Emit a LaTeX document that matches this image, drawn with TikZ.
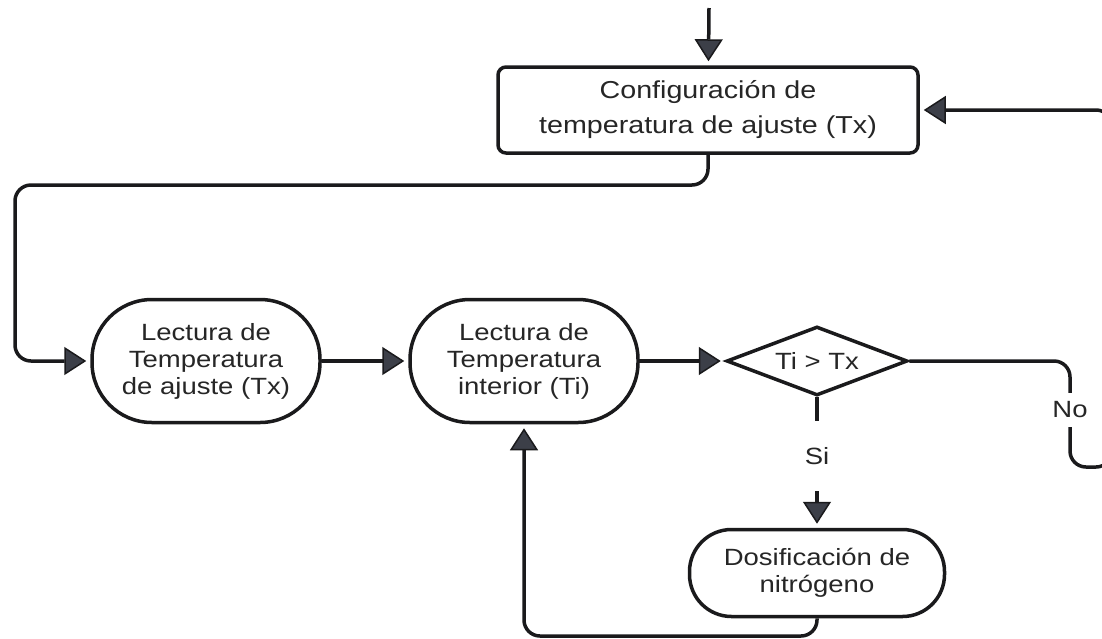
\documentclass[tikz,border=0pt]{standalone}
\usepackage{fontspec}
\setmainfont{Liberation Sans}[FakeStretch=1.17]
\usetikzlibrary{arrows.meta,shapes.geometric}
\definecolor{ink}{HTML}{1A1A1C}
\definecolor{txt}{HTML}{262626}
\definecolor{tipgray}{HTML}{3C3F48}
\tikzset{
  base/.style={draw=ink, line width=3.5pt, fill=white, text=txt, align=center,
               inner sep=0pt, font=\fontsize{23.5}{27}\selectfont},
  cfgbox/.style={base, rectangle, rounded corners=8pt, minimum width=420pt,
                 minimum height=86pt, font=\fontsize{24.5}{35}\selectfont},
  readbox/.style={base, rectangle, rounded corners=60pt, minimum width=228pt, minimum height=123pt},
  actbox/.style={base, rectangle, rounded corners=42pt, minimum width=255pt, minimum height=87pt},
  decbox/.style={base, diamond, aspect=2.6, minimum width=181pt, minimum height=69pt},
  lbl/.style={inner sep=0pt, text=txt, font=\fontsize{23.5}{27}\selectfont},
  wire/.style={draw=ink, line width=3.5pt, rounded corners=16pt},
  flow/.style={wire, -{Triangle[length=22pt, width=28pt, fill=tipgray, line width=1.5pt]}, shorten >=4pt},
}
\begin{document}
\begin{tikzpicture}[x=1pt, y=-1pt]
\useasboundingbox (0,0) rectangle (1102,638);
\fill[white] (0,0) rectangle (1102,638);
\clip (0,0) rectangle (1102,638);
% steps
\node[cfgbox] (cfg) at (708,110) {Configuración de\\temperatura de ajuste (Tx)};
\node[readbox] (rd1) at (206,361) {Lectura de\\Temperatura\\de ajuste (Tx)};
\node[readbox] (rd2) at (524,361) {Lectura de\\Temperatura\\interior (Ti)};
\node[decbox] (dec) at (817,361) {Ti > Tx};
\node[actbox] (dos) at (817,573) {Dosificación de\\nitrógeno};
% branch labels
\node[lbl, minimum height=70pt] (si) at (817,456) {Si};
\node[lbl, minimum height=34pt] (no) at (1070,410) {No};
% bends
\coordinate (top) at (709,8);
\coordinate (lt) at (15,185);
\coordinate (rb) at (1112,467);
\coordinate (bl) at (524,636);
% connectors
\draw[flow] (top) -- (cfg);
\draw[flow] (cfg.south) |- (lt) |- (rd1.west);
\draw[flow] (rd1) -- (rd2);
\draw[flow] (rd2) -- (dec);
\draw[wire] (dec) -- (si);
\draw[flow] (si) -- (dos);
\draw[wire] (dec.east) -| (no);
\draw[flow] (no) |- (rb) |- (cfg.east);
\draw[flow] (dos) |- (bl) -- (rd2);
\end{tikzpicture}
\end{document}
